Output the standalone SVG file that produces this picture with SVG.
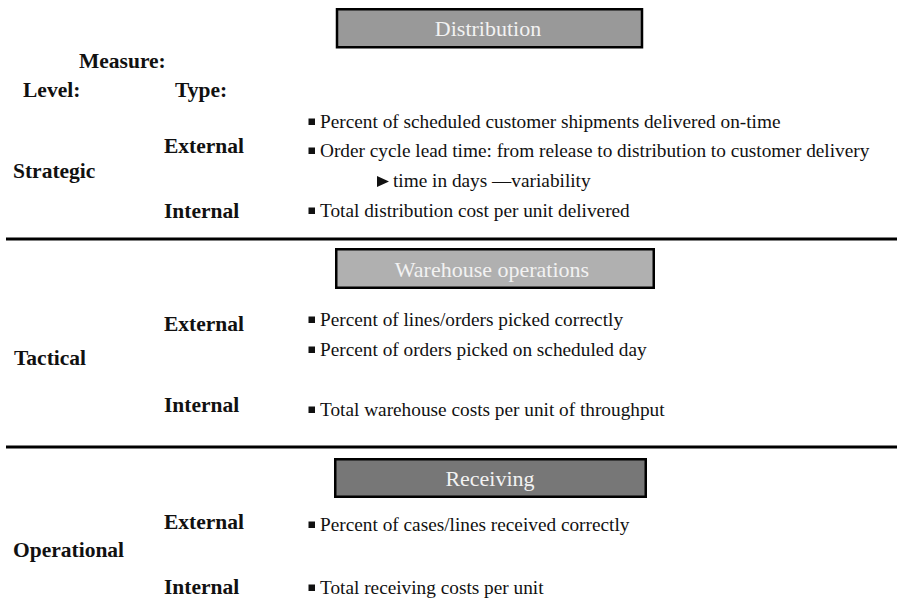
<svg xmlns="http://www.w3.org/2000/svg" width="897" height="599" viewBox="0 0 897 599">
  <style>
    text { font-family: "Liberation Serif", "DejaVu Serif", serif; fill: #111; }
    .hd { font-weight: bold; font-size: 21.5px; }
    .item { font-size: 19.3px; }
    .box { stroke: #000; stroke-width: 2.5; }
    .boxtxt { font-size: 22px; fill: #f2f2f2; text-anchor: middle; }
    .rule { stroke: #000; stroke-width: 3; }
    .bullet { fill: #111; }
  </style>
  <defs>
    <rect id="sq" width="6.5" height="6.5" class="bullet"/>
  </defs>
  <rect width="897" height="599" fill="#fff"/>

  <!-- column headers -->
  <g id="headers">
    <text class="hd" x="79" y="68">Measure:</text>
    <text class="hd" x="23" y="97">Level:</text>
    <text class="hd" x="175" y="97">Type:</text>
  </g>

  <!-- Strategic band -->
  <g id="distribution">
    <rect class="box" x="337" y="9.25" width="305" height="38" fill="#999999"/>
    <text class="boxtxt" x="488" y="36">Distribution</text>
  </g>
  <g id="strategic">
    <text class="hd" x="13" y="178">Strategic</text>
    <text class="hd" x="164" y="153">External</text>
    <text class="hd" x="164" y="218">Internal</text>
    <use href="#sq" x="308.5" y="118.5"/>
    <text class="item" x="320" y="128">Percent of scheduled customer shipments delivered on-time</text>
    <use href="#sq" x="308.5" y="147.5"/>
    <text class="item" x="320" y="157">Order cycle lead time: from release to distribution to customer delivery</text>
    <path d="M377 176 L389 181.5 L377 187 Z" fill="#111"/>
    <text class="item" x="393" y="187">time in days —variability</text>
    <use href="#sq" x="308.5" y="207.5"/>
    <text class="item" x="320" y="217">Total distribution cost per unit delivered</text>
  </g>

  <!-- band separators -->
  <g id="rules">
    <line class="rule" x1="6" y1="239" x2="897" y2="239"/>
    <line class="rule" x1="6" y1="447" x2="897" y2="447"/>
  </g>

  <!-- Tactical band -->
  <g id="warehouse">
    <rect class="box" x="336.25" y="249.25" width="317.5" height="38.5" fill="#b0b0b0"/>
    <text class="boxtxt" x="492" y="277">Warehouse operations</text>
  </g>
  <g id="tactical">
    <text class="hd" x="14" y="365">Tactical</text>
    <text class="hd" x="164" y="331">External</text>
    <text class="hd" x="164" y="412">Internal</text>
    <use href="#sq" x="308.5" y="316.5"/>
    <text class="item" x="320" y="326">Percent of lines/orders picked correctly</text>
    <use href="#sq" x="308.5" y="346.5"/>
    <text class="item" x="320" y="356">Percent of orders picked on scheduled day</text>
    <use href="#sq" x="308.5" y="406.5"/>
    <text class="item" x="320" y="416">Total warehouse costs per unit of throughput</text>
  </g>

  <!-- Operational band -->
  <g id="receiving">
    <rect class="box" x="335.25" y="459.25" width="310.5" height="37.5" fill="#777777"/>
    <text class="boxtxt" x="490" y="486">Receiving</text>
  </g>
  <g id="operational">
    <text class="hd" x="13" y="557">Operational</text>
    <text class="hd" x="164" y="529">External</text>
    <text class="hd" x="164" y="594">Internal</text>
    <use href="#sq" x="308.5" y="521.5"/>
    <text class="item" x="320" y="531">Percent of cases/lines received correctly</text>
    <use href="#sq" x="308.5" y="584.5"/>
    <text class="item" x="320" y="594">Total receiving costs per unit</text>
  </g>
</svg>
